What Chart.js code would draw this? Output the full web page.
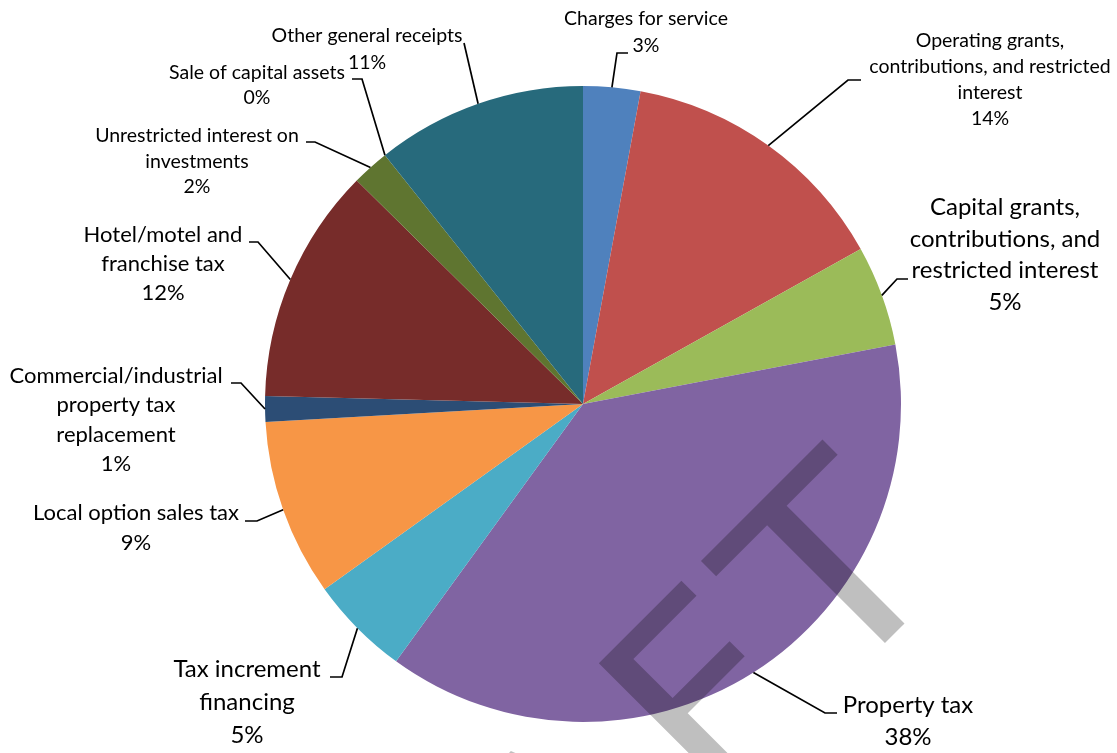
<!DOCTYPE html>
<html>
<head>
<meta charset="utf-8">
<script src="https://cdn.jsdelivr.net/npm/chart.js@4.4.0/dist/chart.umd.min.js"></script>
<style>
  html, body { margin: 0; padding: 0; background: #fff; }
</style>
</head>
<body>
<canvas id="revenueChart" width="1117" height="753"></canvas>
<script>
// Fuentes de ingreso - porcentaje del total
const categories = [
  'Charges for service',
  'Operating grants, contributions, and restricted interest',
  'Capital grants, contributions, and restricted interest',
  'Property tax',
  'Tax increment financing',
  'Local option sales tax',
  'Commercial/industrial property tax replacement',
  'Hotel/motel and franchise tax',
  'Unrestricted interest on investments',
  'Sale of capital assets',
  'Other general receipts'
];
const shares = [2.9, 14.0, 5.1, 38.0, 5.1, 9.0, 1.3, 12.0, 1.9, 0.0, 10.7];

// como aparecen partidas las etiquetas en el grafico
const labelLines = [
  ['Charges for service'],
  ['Operating grants,', 'contributions, and restricted', 'interest'],
  ['Capital grants,', 'contributions, and', 'restricted interest'],
  ['Property tax'],
  ['Tax increment', 'financing'],
  ['Local option sales tax'],
  ['Commercial/industrial', 'property tax', 'replacement'],
  ['Hotel/motel and', 'franchise tax'],
  ['Unrestricted interest on', 'investments'],
  ['Sale of capital assets'],
  ['Other general receipts']
];

const sliceColors = ['#4F81BD', '#C0504D', '#9BBB59', '#8064A2', '#4BACC6', '#F79646',
                     '#2C4D75', '#772C2A', '#5F7530', '#4D3B62', '#276A7C'];

// posicion de cada etiqueta: centro x, primera linea y, tamaño, interlineado, codo de la guia
const FONT = 'Lato, "Open Sans", sans-serif';
const labelLayout = [
  { x: 646,  y: 25,  size: 19.5, lh: 26.5, elbow: [617, 53],  end: 628 },
  { x: 990,  y: 47,  size: 19.5, lh: 26,   elbow: [848, 80],  end: 861 },
  { x: 1005, y: 215, size: 24,   lh: 31.5, elbow: [897, 279], end: 908 },
  { x: 908,  y: 713, size: 24,   lh: 32,   elbow: [825, 713], end: 837 },
  { x: 247,  y: 677, size: 24,   lh: 33,   elbow: [342, 677], end: 330 },
  { x: 136,  y: 520, size: 22,   lh: 29.5, elbow: [257, 521], end: 245 },
  { x: 116,  y: 383, size: 22,   lh: 29.3, elbow: [241, 383], end: 231 },
  { x: 163,  y: 242, size: 22,   lh: 29,   elbow: [258, 242], end: 249 },
  { x: 197,  y: 142, size: 19.5, lh: 25.5, elbow: [315, 142], end: 306 },
  { x: 257,  y: 79,  size: 19.5, lh: 25,   elbow: [362, 79],  end: 352 },
  { x: 367,  y: 42,  size: 19.5, lh: 26.5, elbow: [464, 43],  end: 464 }
];

// marca de agua "DRAFT" gris encima del pastel
const draftWatermark = {
  id: 'draftWatermark',
  afterDatasetsDraw(chart) {
    const ctx = chart.ctx;
    ctx.save();
    ctx.translate(764, 764);
    ctx.rotate(-Math.PI / 4);
    ctx.scale(1.08, 1);
    ctx.fillStyle = 'rgba(0, 0, 0, 0.25)';
    ctx.font = '258px "DejaVu Sans"';
    ctx.textAlign = 'right';
    ctx.textBaseline = 'alphabetic';
    ctx.letterSpacing = '16px';
    ctx.fillText('DRAFT', 266, 0);
    ctx.restore();
  }
};

// etiquetas fuera del pastel con lineas guia
const outsideLabels = {
  id: 'outsideLabels',
  afterDraw(chart) {
    const ctx = chart.ctx;
    const meta = chart.getDatasetMeta(0);
    const total = shares.reduce((a, b) => a + b, 0);
    meta.data.forEach((arc, i) => {
      const p = arc.getProps(['x', 'y', 'startAngle', 'endAngle', 'outerRadius'], true);
      const mid = (p.startAngle + p.endAngle) / 2;
      const px = p.x + Math.cos(mid) * p.outerRadius;
      const py = p.y + Math.sin(mid) * p.outerRadius;
      const lay = labelLayout[i];

      ctx.save();
      ctx.strokeStyle = '#000';
      ctx.lineWidth = 1.7;
      ctx.beginPath();
      ctx.moveTo(px, py);
      ctx.lineTo(lay.elbow[0], lay.elbow[1]);
      ctx.lineTo(lay.end, lay.elbow[1]);
      ctx.stroke();

      ctx.fillStyle = '#000';
      ctx.font = lay.size + 'px ' + FONT;
      ctx.textAlign = 'center';
      ctx.textBaseline = 'alphabetic';
      const lines = labelLines[i].concat([Math.round(shares[i] / total * 100) + '%']);
      lines.forEach((t, k) => ctx.fillText(t, lay.x, lay.y + k * lay.lh));
      ctx.restore();
    });
  }
};

const ctx = document.getElementById('revenueChart').getContext('2d');
const revenueChart = new Chart(ctx, {
  type: 'pie',
  data: {
    labels: categories,
    datasets: [{
      data: shares,
      backgroundColor: sliceColors,
      borderWidth: 0
    }]
  },
  options: {
    responsive: false,
    devicePixelRatio: 1,
    animation: false,
    layout: { padding: { left: 265, right: 216, top: 86, bottom: 31 } },
    plugins: {
      legend: { display: false },
      tooltip: { enabled: false }
    }
  },
  plugins: [draftWatermark, outsideLabels]
});
</script>
</body>
</html>
